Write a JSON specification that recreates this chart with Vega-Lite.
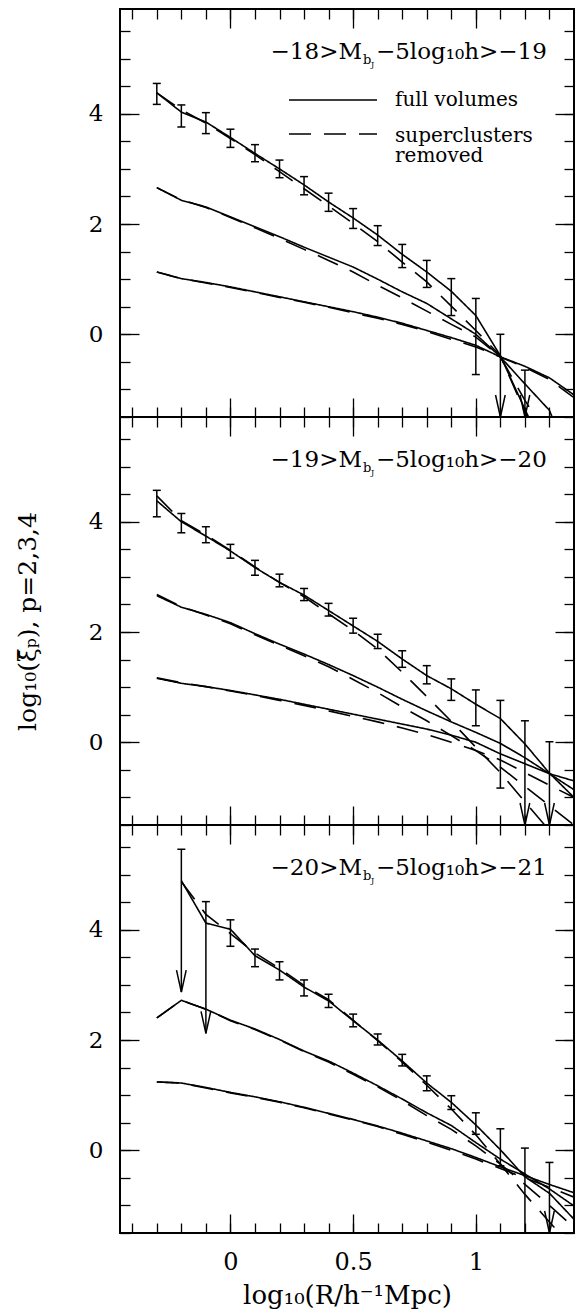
{
"$schema": "https://vega.github.io/schema/vega-lite/v6.json",
"padding": {"left": 14, "top": 7, "right": 0, "bottom": 0},
"spacing": 0,
"bounds": "flush",
"datasets": {
"curves": [
{"panel":1,"p":2,"x":-0.3,"full":4.38,"removed":4.38},
{"panel":1,"p":2,"x":-0.2,"full":4.03,"removed":4.07},
{"panel":1,"p":2,"x":-0.1,"full":3.85,"removed":3.83},
{"panel":1,"p":2,"x":0.0,"full":3.57,"removed":3.55},
{"panel":1,"p":2,"x":0.1,"full":3.28,"removed":3.26},
{"panel":1,"p":2,"x":0.2,"full":3.00,"removed":2.95},
{"panel":1,"p":2,"x":0.3,"full":2.71,"removed":2.64},
{"panel":1,"p":2,"x":0.4,"full":2.40,"removed":2.33},
{"panel":1,"p":2,"x":0.5,"full":2.11,"removed":2.01},
{"panel":1,"p":2,"x":0.6,"full":1.80,"removed":1.68},
{"panel":1,"p":2,"x":0.7,"full":1.45,"removed":1.31},
{"panel":1,"p":2,"x":0.8,"full":1.13,"removed":0.95},
{"panel":1,"p":2,"x":0.9,"full":0.78,"removed":0.51},
{"panel":1,"p":2,"x":1.0,"full":0.34,"removed":0.07},
{"panel":1,"p":2,"x":1.1,"full":-0.39,"removed":-0.39},
{"panel":1,"p":2,"x":1.2,"full":-1.36,"removed":-1.41},
{"panel":1,"p":2,"x":1.3,"full":-2.3,"removed":-2.4},
{"panel":1,"p":3,"x":-0.3,"full":2.66,"removed":2.66},
{"panel":1,"p":3,"x":-0.2,"full":2.43,"removed":2.44},
{"panel":1,"p":3,"x":-0.1,"full":2.31,"removed":2.30},
{"panel":1,"p":3,"x":0.0,"full":2.13,"removed":2.12},
{"panel":1,"p":3,"x":0.1,"full":1.95,"removed":1.93},
{"panel":1,"p":3,"x":0.2,"full":1.77,"removed":1.74},
{"panel":1,"p":3,"x":0.3,"full":1.58,"removed":1.54},
{"panel":1,"p":3,"x":0.4,"full":1.40,"removed":1.34},
{"panel":1,"p":3,"x":0.5,"full":1.22,"removed":1.13},
{"panel":1,"p":3,"x":0.6,"full":1.00,"removed":0.89},
{"panel":1,"p":3,"x":0.7,"full":0.77,"removed":0.66},
{"panel":1,"p":3,"x":0.8,"full":0.56,"removed":0.42},
{"panel":1,"p":3,"x":0.9,"full":0.28,"removed":0.18},
{"panel":1,"p":3,"x":1.0,"full":0.0,"removed":-0.05},
{"panel":1,"p":3,"x":1.1,"full":-0.41,"removed":-0.41},
{"panel":1,"p":3,"x":1.2,"full":-0.90,"removed":-1.2},
{"panel":1,"p":3,"x":1.3,"full":-1.38,"removed":-1.9},
{"panel":1,"p":3,"x":1.4,"full":-2.5,"removed":null},
{"panel":1,"p":4,"x":-0.3,"full":1.13,"removed":1.13},
{"panel":1,"p":4,"x":-0.2,"full":1.01,"removed":1.01},
{"panel":1,"p":4,"x":-0.1,"full":0.94,"removed":0.93},
{"panel":1,"p":4,"x":0.0,"full":0.86,"removed":0.85},
{"panel":1,"p":4,"x":0.1,"full":0.77,"removed":0.76},
{"panel":1,"p":4,"x":0.2,"full":0.68,"removed":0.67},
{"panel":1,"p":4,"x":0.3,"full":0.59,"removed":0.58},
{"panel":1,"p":4,"x":0.4,"full":0.50,"removed":0.49},
{"panel":1,"p":4,"x":0.5,"full":0.41,"removed":0.39},
{"panel":1,"p":4,"x":0.6,"full":0.31,"removed":0.29},
{"panel":1,"p":4,"x":0.7,"full":0.20,"removed":0.18},
{"panel":1,"p":4,"x":0.8,"full":0.07,"removed":0.05},
{"panel":1,"p":4,"x":0.9,"full":-0.06,"removed":-0.09},
{"panel":1,"p":4,"x":1.0,"full":-0.20,"removed":-0.23},
{"panel":1,"p":4,"x":1.1,"full":-0.41,"removed":-0.41},
{"panel":1,"p":4,"x":1.2,"full":-0.58,"removed":-0.60},
{"panel":1,"p":4,"x":1.3,"full":-0.79,"removed":-0.82},
{"panel":1,"p":4,"x":1.4,"full":-1.1,"removed":-1.15},
{"panel":2,"p":2,"x":-0.3,"full":4.38,"removed":4.47},
{"panel":2,"p":2,"x":-0.2,"full":4.00,"removed":4.02},
{"panel":2,"p":2,"x":-0.1,"full":3.74,"removed":3.76},
{"panel":2,"p":2,"x":0.0,"full":3.47,"removed":3.48},
{"panel":2,"p":2,"x":0.1,"full":3.17,"removed":3.18},
{"panel":2,"p":2,"x":0.2,"full":2.90,"removed":2.90},
{"panel":2,"p":2,"x":0.3,"full":2.67,"removed":2.64},
{"panel":2,"p":2,"x":0.4,"full":2.39,"removed":2.33},
{"panel":2,"p":2,"x":0.5,"full":2.11,"removed":2.03},
{"panel":2,"p":2,"x":0.6,"full":1.83,"removed":1.69},
{"panel":2,"p":2,"x":0.7,"full":1.51,"removed":1.27},
{"panel":2,"p":2,"x":0.8,"full":1.21,"removed":0.83},
{"panel":2,"p":2,"x":0.9,"full":0.97,"removed":0.38},
{"panel":2,"p":2,"x":1.0,"full":0.69,"removed":-0.09},
{"panel":2,"p":2,"x":1.1,"full":0.43,"removed":-0.55},
{"panel":2,"p":2,"x":1.2,"full":-0.03,"removed":-1.08},
{"panel":2,"p":2,"x":1.3,"full":-0.56,"removed":-1.6},
{"panel":2,"p":2,"x":1.4,"full":-1.0,"removed":null},
{"panel":2,"p":3,"x":-0.3,"full":2.66,"removed":2.68},
{"panel":2,"p":3,"x":-0.2,"full":2.45,"removed":2.46},
{"panel":2,"p":3,"x":-0.1,"full":2.32,"removed":2.31},
{"panel":2,"p":3,"x":0.0,"full":2.17,"removed":2.15},
{"panel":2,"p":3,"x":0.1,"full":1.97,"removed":1.95},
{"panel":2,"p":3,"x":0.2,"full":1.78,"removed":1.76},
{"panel":2,"p":3,"x":0.3,"full":1.60,"removed":1.57},
{"panel":2,"p":3,"x":0.4,"full":1.41,"removed":1.37},
{"panel":2,"p":3,"x":0.5,"full":1.21,"removed":1.14},
{"panel":2,"p":3,"x":0.6,"full":1.00,"removed":0.90},
{"panel":2,"p":3,"x":0.7,"full":0.78,"removed":0.64},
{"panel":2,"p":3,"x":0.8,"full":0.57,"removed":0.39},
{"panel":2,"p":3,"x":0.9,"full":0.37,"removed":0.12},
{"panel":2,"p":3,"x":1.0,"full":0.18,"removed":-0.15},
{"panel":2,"p":3,"x":1.1,"full":-0.02,"removed":-0.45},
{"panel":2,"p":3,"x":1.2,"full":-0.28,"removed":-0.80},
{"panel":2,"p":3,"x":1.3,"full":-0.57,"removed":-1.15},
{"panel":2,"p":3,"x":1.4,"full":-0.86,"removed":-1.5},
{"panel":2,"p":4,"x":-0.3,"full":1.16,"removed":1.17},
{"panel":2,"p":4,"x":-0.2,"full":1.07,"removed":1.08},
{"panel":2,"p":4,"x":-0.1,"full":1.01,"removed":1.01},
{"panel":2,"p":4,"x":0.0,"full":0.94,"removed":0.93},
{"panel":2,"p":4,"x":0.1,"full":0.86,"removed":0.85},
{"panel":2,"p":4,"x":0.2,"full":0.78,"removed":0.76},
{"panel":2,"p":4,"x":0.3,"full":0.69,"removed":0.67},
{"panel":2,"p":4,"x":0.4,"full":0.60,"removed":0.57},
{"panel":2,"p":4,"x":0.5,"full":0.51,"removed":0.47},
{"panel":2,"p":4,"x":0.6,"full":0.42,"removed":0.37},
{"panel":2,"p":4,"x":0.7,"full":0.33,"removed":0.26},
{"panel":2,"p":4,"x":0.8,"full":0.24,"removed":0.14},
{"panel":2,"p":4,"x":0.9,"full":0.13,"removed":0.0},
{"panel":2,"p":4,"x":1.0,"full":0.0,"removed":-0.15},
{"panel":2,"p":4,"x":1.1,"full":-0.21,"removed":-0.32},
{"panel":2,"p":4,"x":1.2,"full":-0.39,"removed":-0.55},
{"panel":2,"p":4,"x":1.3,"full":-0.57,"removed":-0.78},
{"panel":2,"p":4,"x":1.4,"full":-0.70,"removed":-1.0},
{"panel":3,"p":2,"x":-0.2,"full":4.89,"removed":4.87},
{"panel":3,"p":2,"x":-0.1,"full":4.12,"removed":4.28},
{"panel":3,"p":2,"x":0.0,"full":4.01,"removed":3.93},
{"panel":3,"p":2,"x":0.1,"full":3.53,"removed":3.58},
{"panel":3,"p":2,"x":0.2,"full":3.27,"removed":3.30},
{"panel":3,"p":2,"x":0.3,"full":2.96,"removed":2.99},
{"panel":3,"p":2,"x":0.4,"full":2.71,"removed":2.73},
{"panel":3,"p":2,"x":0.5,"full":2.35,"removed":2.36},
{"panel":3,"p":2,"x":0.6,"full":2.00,"removed":1.99},
{"panel":3,"p":2,"x":0.7,"full":1.62,"removed":1.60},
{"panel":3,"p":2,"x":0.8,"full":1.22,"removed":1.18},
{"panel":3,"p":2,"x":0.9,"full":0.87,"removed":0.75},
{"panel":3,"p":2,"x":1.0,"full":0.46,"removed":0.28},
{"panel":3,"p":2,"x":1.1,"full":0.01,"removed":-0.25},
{"panel":3,"p":2,"x":1.2,"full":-0.48,"removed":-0.80},
{"panel":3,"p":2,"x":1.3,"full":-0.78,"removed":-1.3},
{"panel":3,"p":2,"x":1.4,"full":-1.25,"removed":-1.8},
{"panel":3,"p":3,"x":-0.3,"full":2.40,"removed":2.40},
{"panel":3,"p":3,"x":-0.2,"full":2.72,"removed":2.72},
{"panel":3,"p":3,"x":-0.1,"full":2.56,"removed":2.56},
{"panel":3,"p":3,"x":0.0,"full":2.36,"removed":2.35},
{"panel":3,"p":3,"x":0.1,"full":2.20,"removed":2.19},
{"panel":3,"p":3,"x":0.2,"full":2.01,"removed":2.00},
{"panel":3,"p":3,"x":0.3,"full":1.80,"removed":1.79},
{"panel":3,"p":3,"x":0.4,"full":1.62,"removed":1.60},
{"panel":3,"p":3,"x":0.5,"full":1.40,"removed":1.38},
{"panel":3,"p":3,"x":0.6,"full":1.17,"removed":1.15},
{"panel":3,"p":3,"x":0.7,"full":0.93,"removed":0.90},
{"panel":3,"p":3,"x":0.8,"full":0.68,"removed":0.63},
{"panel":3,"p":3,"x":0.9,"full":0.45,"removed":0.38},
{"panel":3,"p":3,"x":1.0,"full":0.14,"removed":0.08},
{"panel":3,"p":3,"x":1.1,"full":-0.16,"removed":-0.25},
{"panel":3,"p":3,"x":1.2,"full":-0.43,"removed":-0.62},
{"panel":3,"p":3,"x":1.3,"full":-0.70,"removed":-1.0},
{"panel":3,"p":3,"x":1.4,"full":-1.01,"removed":-1.4},
{"panel":3,"p":4,"x":-0.3,"full":1.24,"removed":1.24},
{"panel":3,"p":4,"x":-0.2,"full":1.22,"removed":1.22},
{"panel":3,"p":4,"x":-0.1,"full":1.14,"removed":1.13},
{"panel":3,"p":4,"x":0.0,"full":1.05,"removed":1.04},
{"panel":3,"p":4,"x":0.1,"full":0.97,"removed":0.96},
{"panel":3,"p":4,"x":0.2,"full":0.88,"removed":0.87},
{"panel":3,"p":4,"x":0.3,"full":0.78,"removed":0.77},
{"panel":3,"p":4,"x":0.4,"full":0.67,"removed":0.66},
{"panel":3,"p":4,"x":0.5,"full":0.56,"removed":0.55},
{"panel":3,"p":4,"x":0.6,"full":0.44,"removed":0.43},
{"panel":3,"p":4,"x":0.7,"full":0.31,"removed":0.29},
{"panel":3,"p":4,"x":0.8,"full":0.17,"removed":0.15},
{"panel":3,"p":4,"x":0.9,"full":0.03,"removed":0.0},
{"panel":3,"p":4,"x":1.0,"full":-0.13,"removed":-0.16},
{"panel":3,"p":4,"x":1.1,"full":-0.30,"removed":-0.33},
{"panel":3,"p":4,"x":1.2,"full":-0.46,"removed":-0.50},
{"panel":3,"p":4,"x":1.3,"full":-0.62,"removed":-0.67},
{"panel":3,"p":4,"x":1.4,"full":-0.77,"removed":-0.85}
],
"bars": [
{"panel":1,"x":-0.3,"lo":4.17,"hi":4.55,"lim":false},
{"panel":1,"x":-0.2,"lo":3.76,"hi":4.16,"lim":false},
{"panel":1,"x":-0.1,"lo":3.64,"hi":4.02,"lim":false},
{"panel":1,"x":0.0,"lo":3.39,"hi":3.72,"lim":false},
{"panel":1,"x":0.1,"lo":3.13,"hi":3.44,"lim":false},
{"panel":1,"x":0.2,"lo":2.84,"hi":3.16,"lim":false},
{"panel":1,"x":0.3,"lo":2.53,"hi":2.86,"lim":false},
{"panel":1,"x":0.4,"lo":2.23,"hi":2.56,"lim":false},
{"panel":1,"x":0.5,"lo":1.92,"hi":2.28,"lim":false},
{"panel":1,"x":0.6,"lo":1.61,"hi":1.97,"lim":false},
{"panel":1,"x":0.7,"lo":1.21,"hi":1.63,"lim":false},
{"panel":1,"x":0.8,"lo":0.85,"hi":1.34,"lim":false},
{"panel":1,"x":0.9,"lo":0.34,"hi":1.01,"lim":false},
{"panel":1,"x":1.0,"lo":-0.73,"hi":0.65,"lim":false},
{"panel":1,"x":1.1,"lo":-1.5,"hi":0.0,"lim":true},
{"panel":1,"x":1.2,"lo":-1.5,"hi":-0.65,"lim":true},
{"panel":2,"x":-0.3,"lo":4.09,"hi":4.57,"lim":false},
{"panel":2,"x":-0.2,"lo":3.80,"hi":4.15,"lim":false},
{"panel":2,"x":-0.1,"lo":3.62,"hi":3.91,"lim":false},
{"panel":2,"x":0.0,"lo":3.34,"hi":3.59,"lim":false},
{"panel":2,"x":0.1,"lo":3.03,"hi":3.30,"lim":false},
{"panel":2,"x":0.2,"lo":2.82,"hi":3.05,"lim":false},
{"panel":2,"x":0.3,"lo":2.57,"hi":2.79,"lim":false},
{"panel":2,"x":0.4,"lo":2.29,"hi":2.52,"lim":false},
{"panel":2,"x":0.5,"lo":1.98,"hi":2.25,"lim":false},
{"panel":2,"x":0.6,"lo":1.70,"hi":1.96,"lim":false},
{"panel":2,"x":0.7,"lo":1.36,"hi":1.66,"lim":false},
{"panel":2,"x":0.8,"lo":1.06,"hi":1.39,"lim":false},
{"panel":2,"x":0.9,"lo":0.76,"hi":1.15,"lim":false},
{"panel":2,"x":1.0,"lo":0.30,"hi":0.95,"lim":false},
{"panel":2,"x":1.1,"lo":-0.83,"hi":0.76,"lim":false},
{"panel":2,"x":1.2,"lo":-1.5,"hi":0.39,"lim":true},
{"panel":2,"x":1.3,"lo":-1.5,"hi":0.01,"lim":true},
{"panel":3,"x":-0.2,"lo":2.87,"hi":5.46,"lim":true},
{"panel":3,"x":-0.1,"lo":2.12,"hi":4.51,"lim":true},
{"panel":3,"x":0.0,"lo":3.70,"hi":4.18,"lim":false},
{"panel":3,"x":0.1,"lo":3.33,"hi":3.65,"lim":false},
{"panel":3,"x":0.2,"lo":3.09,"hi":3.42,"lim":false},
{"panel":3,"x":0.3,"lo":2.80,"hi":3.09,"lim":false},
{"panel":3,"x":0.4,"lo":2.59,"hi":2.83,"lim":false},
{"panel":3,"x":0.5,"lo":2.24,"hi":2.47,"lim":false},
{"panel":3,"x":0.6,"lo":1.91,"hi":2.11,"lim":false},
{"panel":3,"x":0.7,"lo":1.53,"hi":1.74,"lim":false},
{"panel":3,"x":0.8,"lo":1.08,"hi":1.35,"lim":false},
{"panel":3,"x":0.9,"lo":0.74,"hi":0.99,"lim":false},
{"panel":3,"x":1.0,"lo":0.29,"hi":0.68,"lim":false},
{"panel":3,"x":1.1,"lo":-0.28,"hi":0.39,"lim":false},
{"panel":3,"x":1.2,"lo":-1.5,"hi":0.04,"lim":false},
{"panel":3,"x":1.3,"lo":-1.5,"hi":-0.22,"lim":true}
],
"labels": [
{"panel":1,"lead":"−18>M","sub":"b","subsub":"J","tail":"−5log₁₀h>−19"},
{"panel":2,"lead":"−19>M","sub":"b","subsub":"J","tail":"−5log₁₀h>−20"},
{"panel":3,"lead":"−20>M","sub":"b","subsub":"J","tail":"−5log₁₀h>−21"}
]
},
"vconcat": [
{
"width": 454, "height": 408,
"layer": [
{"data": {"name": "curves"},
 "transform": [{"filter": "datum.panel == 1"}, {"fold": ["full", "removed"], "as": ["set", "y"]}],
 "mark": {"type": "line", "clip": true, "color": "black", "strokeWidth": 1.6},
 "encoding": {
  "x": {"field": "x", "type": "quantitative", "scale": {"domain": [-0.45, 1.4], "nice": false, "zero": false}, "axis": {"orient": "bottom", "values": [0, 0.5, 1], "tickSize": -19, "labels": false, "title": null}},
  "y": {"field": "y", "type": "quantitative", "scale": {"domain": [-1.5, 5.9], "nice": false, "zero": false}, "axis": {"orient": "left", "values": [0, 2, 4], "tickSize": -19, "labelPadding": 36, "format": "~g", "title": null}},
  "strokeDash": {"field": "set", "type": "nominal", "scale": {"domain": ["full", "removed"], "range": [[1, 0], [22, 13]]},
   "legend": {"orient": "none", "legendX": 168, "legendY": 74, "title": null, "symbolType": "stroke", "symbolSize": 7744, "symbolStrokeWidth": 1.6, "symbolStrokeColor": "black", "clipHeight": 34, "rowPadding": 0, "padding": 0, "labelOffset": 17, "labelFont": "DejaVu Serif", "labelFontSize": 20, "labelColor": "black", "labelLimit": 300, "labelExpr": "datum.label == 'full' ? 'full volumes' : ['superclusters', 'removed']", "encode": {"labels": {"update": {"lineHeight": {"value": 20}, "dy": {"signal": "datum.value == 'removed' ? 2 : 0"}}}}}},
  "detail": {"field": "p", "type": "nominal"}
 }},
{"data": {"name": "bars"},
 "transform": [{"filter": "datum.panel == 1"}],
 "mark": {"type": "rule", "clip": true, "color": "black", "strokeWidth": 1.5},
 "encoding": {
  "x": {"field": "x", "type": "quantitative", "scale": {"domain": [-0.45, 1.4], "nice": false, "zero": false}, "axis": {"orient": "bottom", "values": [-0.4,-0.3,-0.2,-0.1,0,0.1,0.2,0.3,0.4,0.5,0.6,0.7,0.8,0.9,1,1.1,1.2,1.3], "tickSize": -10, "labels": false, "title": null}},
  "y": {"field": "lo", "type": "quantitative", "scale": {"domain": [-1.5, 5.9], "nice": false, "zero": false}, "axis": {"orient": "left", "values": [-1.5,-1,-0.5,0,0.5,1,1.5,2,2.5,3,3.5,4,4.5,5,5.5], "tickSize": -10, "labels": false, "title": null}},
  "y2": {"field": "hi"}
 }},
{"data": {"name": "bars"},
 "transform": [{"filter": "datum.panel == 1"}],
 "mark": {"type": "point", "shape": "M-1,0L1,0", "size": 64, "filled": false, "color": "black", "strokeWidth": 1.5, "opacity": 1},
 "encoding": {
  "x": {"field": "x", "type": "quantitative", "scale": {"domain": [-0.45, 1.4], "nice": false, "zero": false}, "axis": {"orient": "top", "values": [0, 0.5, 1], "tickSize": -19, "labels": false, "title": null}},
  "y": {"field": "hi", "type": "quantitative", "scale": {"domain": [-1.5, 5.9], "nice": false, "zero": false}, "axis": {"orient": "right", "values": [0, 2, 4], "tickSize": -19, "labels": false, "title": null}}
 }},
{"data": {"name": "bars"},
 "transform": [{"filter": "datum.panel == 1 && !datum.lim"}],
 "mark": {"type": "point", "shape": "M-1,0L1,0", "size": 64, "filled": false, "color": "black", "strokeWidth": 1.5, "opacity": 1},
 "encoding": {
  "x": {"field": "x", "type": "quantitative", "scale": {"domain": [-0.45, 1.4], "nice": false, "zero": false}, "axis": {"orient": "top", "values": [-0.4,-0.3,-0.2,-0.1,0,0.1,0.2,0.3,0.4,0.5,0.6,0.7,0.8,0.9,1,1.1,1.2,1.3], "tickSize": -10, "labels": false, "title": null}},
  "y": {"field": "lo", "type": "quantitative", "scale": {"domain": [-1.5, 5.9], "nice": false, "zero": false}, "axis": {"orient": "right", "values": [-1.5,-1,-0.5,0,0.5,1,1.5,2,2.5,3,3.5,4,4.5,5,5.5], "tickSize": -10, "labels": false, "title": null}}
 }},
{"data": {"name": "bars"},
 "transform": [{"filter": "datum.panel == 1 && datum.lim"}],
 "mark": {"type": "point", "shape": "M-0.22,-1L0,0L0.22,-1", "size": 1936, "filled": false, "color": "black", "strokeWidth": 1.5, "opacity": 1},
 "encoding": {
  "x": {"field": "x", "type": "quantitative", "axis": null},
  "y": {"field": "lo", "type": "quantitative", "axis": null}
 }},
{"data": {"name": "labels"},
 "transform": [{"filter": "datum.panel == 1"}],
 "mark": {"type": "text", "align": "right", "baseline": "alphabetic", "font": "DejaVu Serif", "fontSize": 23, "color": "black"},
 "encoding": {"x": {"datum": 0.536, "type": "quantitative", "axis": null}, "y": {"datum": 5.0, "type": "quantitative", "axis": null}, "text": {"field": "lead"}}},
{"data": {"name": "labels"},
 "transform": [{"filter": "datum.panel == 1"}],
 "mark": {"type": "text", "align": "left", "baseline": "alphabetic", "font": "DejaVu Serif", "fontSize": 13, "color": "black", "dx": 1, "dy": 5},
 "encoding": {"x": {"datum": 0.536, "type": "quantitative", "axis": null}, "y": {"datum": 5.0, "type": "quantitative", "axis": null}, "text": {"field": "sub"}}},
{"data": {"name": "labels"},
 "transform": [{"filter": "datum.panel == 1"}],
 "mark": {"type": "text", "align": "left", "baseline": "alphabetic", "font": "DejaVu Serif", "fontSize": 8, "color": "black", "dx": 9, "dy": 8},
 "encoding": {"x": {"datum": 0.536, "type": "quantitative", "axis": null}, "y": {"datum": 5.0, "type": "quantitative", "axis": null}, "text": {"field": "subsub"}}},
{"data": {"name": "labels"},
 "transform": [{"filter": "datum.panel == 1"}],
 "mark": {"type": "text", "align": "left", "baseline": "alphabetic", "font": "DejaVu Serif", "fontSize": 23, "color": "black", "dx": 14},
 "encoding": {"x": {"datum": 0.536, "type": "quantitative", "axis": null}, "y": {"datum": 5.0, "type": "quantitative", "axis": null}, "text": {"field": "tail"}}}
],
"resolve": {"axis": {"x": "independent", "y": "independent"}}
},
{
"width": 454, "height": 408,
"layer": [
{"data": {"name": "curves"},
 "transform": [{"filter": "datum.panel == 2"}, {"fold": ["full", "removed"], "as": ["set", "y"]}],
 "mark": {"type": "line", "clip": true, "color": "black", "strokeWidth": 1.6},
 "encoding": {
  "x": {"field": "x", "type": "quantitative", "scale": {"domain": [-0.45, 1.4], "nice": false, "zero": false}, "axis": {"orient": "bottom", "values": [0, 0.5, 1], "tickSize": -19, "labels": false, "title": null}},
  "y": {"field": "y", "type": "quantitative", "scale": {"domain": [-1.5, 5.9], "nice": false, "zero": false}, "axis": {"orient": "left", "values": [0, 2, 4], "tickSize": -19, "labelPadding": 36, "format": "~g", "title": "log₁₀(ξ̄ₚ),  p=2,3,4", "titleFontSize": 25, "titlePadding": 48}},
  "strokeDash": {"field": "set", "type": "nominal", "scale": {"domain": ["full", "removed"], "range": [[1, 0], [22, 13]]}, "legend": null},
  "detail": {"field": "p", "type": "nominal"}
 }},
{"data": {"name": "bars"},
 "transform": [{"filter": "datum.panel == 2"}],
 "mark": {"type": "rule", "clip": true, "color": "black", "strokeWidth": 1.5},
 "encoding": {
  "x": {"field": "x", "type": "quantitative", "scale": {"domain": [-0.45, 1.4], "nice": false, "zero": false}, "axis": {"orient": "bottom", "values": [-0.4,-0.3,-0.2,-0.1,0,0.1,0.2,0.3,0.4,0.5,0.6,0.7,0.8,0.9,1,1.1,1.2,1.3], "tickSize": -10, "labels": false, "title": null}},
  "y": {"field": "lo", "type": "quantitative", "scale": {"domain": [-1.5, 5.9], "nice": false, "zero": false}, "axis": {"orient": "left", "values": [-1.5,-1,-0.5,0,0.5,1,1.5,2,2.5,3,3.5,4,4.5,5,5.5], "tickSize": -10, "labels": false, "title": null}},
  "y2": {"field": "hi"}
 }},
{"data": {"name": "bars"},
 "transform": [{"filter": "datum.panel == 2"}],
 "mark": {"type": "point", "shape": "M-1,0L1,0", "size": 64, "filled": false, "color": "black", "strokeWidth": 1.5, "opacity": 1},
 "encoding": {
  "x": {"field": "x", "type": "quantitative", "scale": {"domain": [-0.45, 1.4], "nice": false, "zero": false}, "axis": {"orient": "top", "values": [0, 0.5, 1], "tickSize": -19, "labels": false, "title": null}},
  "y": {"field": "hi", "type": "quantitative", "scale": {"domain": [-1.5, 5.9], "nice": false, "zero": false}, "axis": {"orient": "right", "values": [0, 2, 4], "tickSize": -19, "labels": false, "title": null}}
 }},
{"data": {"name": "bars"},
 "transform": [{"filter": "datum.panel == 2 && !datum.lim"}],
 "mark": {"type": "point", "shape": "M-1,0L1,0", "size": 64, "filled": false, "color": "black", "strokeWidth": 1.5, "opacity": 1},
 "encoding": {
  "x": {"field": "x", "type": "quantitative", "scale": {"domain": [-0.45, 1.4], "nice": false, "zero": false}, "axis": {"orient": "top", "values": [-0.4,-0.3,-0.2,-0.1,0,0.1,0.2,0.3,0.4,0.5,0.6,0.7,0.8,0.9,1,1.1,1.2,1.3], "tickSize": -10, "labels": false, "title": null}},
  "y": {"field": "lo", "type": "quantitative", "scale": {"domain": [-1.5, 5.9], "nice": false, "zero": false}, "axis": {"orient": "right", "values": [-1.5,-1,-0.5,0,0.5,1,1.5,2,2.5,3,3.5,4,4.5,5,5.5], "tickSize": -10, "labels": false, "title": null}}
 }},
{"data": {"name": "bars"},
 "transform": [{"filter": "datum.panel == 2 && datum.lim"}],
 "mark": {"type": "point", "shape": "M-0.22,-1L0,0L0.22,-1", "size": 1936, "filled": false, "color": "black", "strokeWidth": 1.5, "opacity": 1},
 "encoding": {
  "x": {"field": "x", "type": "quantitative", "axis": null},
  "y": {"field": "lo", "type": "quantitative", "axis": null}
 }},
{"data": {"name": "labels"},
 "transform": [{"filter": "datum.panel == 2"}],
 "mark": {"type": "text", "align": "right", "baseline": "alphabetic", "font": "DejaVu Serif", "fontSize": 23, "color": "black"},
 "encoding": {"x": {"datum": 0.536, "type": "quantitative", "axis": null}, "y": {"datum": 5.0, "type": "quantitative", "axis": null}, "text": {"field": "lead"}}},
{"data": {"name": "labels"},
 "transform": [{"filter": "datum.panel == 2"}],
 "mark": {"type": "text", "align": "left", "baseline": "alphabetic", "font": "DejaVu Serif", "fontSize": 13, "color": "black", "dx": 1, "dy": 5},
 "encoding": {"x": {"datum": 0.536, "type": "quantitative", "axis": null}, "y": {"datum": 5.0, "type": "quantitative", "axis": null}, "text": {"field": "sub"}}},
{"data": {"name": "labels"},
 "transform": [{"filter": "datum.panel == 2"}],
 "mark": {"type": "text", "align": "left", "baseline": "alphabetic", "font": "DejaVu Serif", "fontSize": 8, "color": "black", "dx": 9, "dy": 8},
 "encoding": {"x": {"datum": 0.536, "type": "quantitative", "axis": null}, "y": {"datum": 5.0, "type": "quantitative", "axis": null}, "text": {"field": "subsub"}}},
{"data": {"name": "labels"},
 "transform": [{"filter": "datum.panel == 2"}],
 "mark": {"type": "text", "align": "left", "baseline": "alphabetic", "font": "DejaVu Serif", "fontSize": 23, "color": "black", "dx": 14},
 "encoding": {"x": {"datum": 0.536, "type": "quantitative", "axis": null}, "y": {"datum": 5.0, "type": "quantitative", "axis": null}, "text": {"field": "tail"}}}
],
"resolve": {"axis": {"x": "independent", "y": "independent"}}
},
{
"width": 454, "height": 408,
"layer": [
{"data": {"name": "curves"},
 "transform": [{"filter": "datum.panel == 3"}, {"fold": ["full", "removed"], "as": ["set", "y"]}],
 "mark": {"type": "line", "clip": true, "color": "black", "strokeWidth": 1.6},
 "encoding": {
  "x": {"field": "x", "type": "quantitative", "scale": {"domain": [-0.45, 1.4], "nice": false, "zero": false}, "axis": {"orient": "bottom", "values": [0, 0.5, 1], "tickSize": -19, "labelPadding": 36, "labelFontSize": 24, "format": "~g", "title": "log₁₀(R/h⁻¹Mpc)", "titleFontSize": 26, "titlePadding": 8}},
  "y": {"field": "y", "type": "quantitative", "scale": {"domain": [-1.5, 5.9], "nice": false, "zero": false}, "axis": {"orient": "left", "values": [0, 2, 4], "tickSize": -19, "labelPadding": 36, "format": "~g", "title": null}},
  "strokeDash": {"field": "set", "type": "nominal", "scale": {"domain": ["full", "removed"], "range": [[1, 0], [22, 13]]}, "legend": null},
  "detail": {"field": "p", "type": "nominal"}
 }},
{"data": {"name": "bars"},
 "transform": [{"filter": "datum.panel == 3"}],
 "mark": {"type": "rule", "clip": true, "color": "black", "strokeWidth": 1.5},
 "encoding": {
  "x": {"field": "x", "type": "quantitative", "scale": {"domain": [-0.45, 1.4], "nice": false, "zero": false}, "axis": {"orient": "bottom", "values": [-0.4,-0.3,-0.2,-0.1,0,0.1,0.2,0.3,0.4,0.5,0.6,0.7,0.8,0.9,1,1.1,1.2,1.3], "tickSize": -10, "labels": false, "title": null}},
  "y": {"field": "lo", "type": "quantitative", "scale": {"domain": [-1.5, 5.9], "nice": false, "zero": false}, "axis": {"orient": "left", "values": [-1.5,-1,-0.5,0,0.5,1,1.5,2,2.5,3,3.5,4,4.5,5,5.5], "tickSize": -10, "labels": false, "title": null}},
  "y2": {"field": "hi"}
 }},
{"data": {"name": "bars"},
 "transform": [{"filter": "datum.panel == 3"}],
 "mark": {"type": "point", "shape": "M-1,0L1,0", "size": 64, "filled": false, "color": "black", "strokeWidth": 1.5, "opacity": 1},
 "encoding": {
  "x": {"field": "x", "type": "quantitative", "scale": {"domain": [-0.45, 1.4], "nice": false, "zero": false}, "axis": {"orient": "top", "values": [0, 0.5, 1], "tickSize": -19, "labels": false, "title": null}},
  "y": {"field": "hi", "type": "quantitative", "scale": {"domain": [-1.5, 5.9], "nice": false, "zero": false}, "axis": {"orient": "right", "values": [0, 2, 4], "tickSize": -19, "labels": false, "title": null}}
 }},
{"data": {"name": "bars"},
 "transform": [{"filter": "datum.panel == 3 && !datum.lim"}],
 "mark": {"type": "point", "shape": "M-1,0L1,0", "size": 64, "filled": false, "color": "black", "strokeWidth": 1.5, "opacity": 1},
 "encoding": {
  "x": {"field": "x", "type": "quantitative", "scale": {"domain": [-0.45, 1.4], "nice": false, "zero": false}, "axis": {"orient": "top", "values": [-0.4,-0.3,-0.2,-0.1,0,0.1,0.2,0.3,0.4,0.5,0.6,0.7,0.8,0.9,1,1.1,1.2,1.3], "tickSize": -10, "labels": false, "title": null}},
  "y": {"field": "lo", "type": "quantitative", "scale": {"domain": [-1.5, 5.9], "nice": false, "zero": false}, "axis": {"orient": "right", "values": [-1.5,-1,-0.5,0,0.5,1,1.5,2,2.5,3,3.5,4,4.5,5,5.5], "tickSize": -10, "labels": false, "title": null}}
 }},
{"data": {"name": "bars"},
 "transform": [{"filter": "datum.panel == 3 && datum.lim"}],
 "mark": {"type": "point", "shape": "M-0.22,-1L0,0L0.22,-1", "size": 1936, "filled": false, "color": "black", "strokeWidth": 1.5, "opacity": 1},
 "encoding": {
  "x": {"field": "x", "type": "quantitative", "axis": null},
  "y": {"field": "lo", "type": "quantitative", "axis": null}
 }},
{"data": {"name": "labels"},
 "transform": [{"filter": "datum.panel == 3"}],
 "mark": {"type": "text", "align": "right", "baseline": "alphabetic", "font": "DejaVu Serif", "fontSize": 23, "color": "black"},
 "encoding": {"x": {"datum": 0.536, "type": "quantitative", "axis": null}, "y": {"datum": 5.0, "type": "quantitative", "axis": null}, "text": {"field": "lead"}}},
{"data": {"name": "labels"},
 "transform": [{"filter": "datum.panel == 3"}],
 "mark": {"type": "text", "align": "left", "baseline": "alphabetic", "font": "DejaVu Serif", "fontSize": 13, "color": "black", "dx": 1, "dy": 5},
 "encoding": {"x": {"datum": 0.536, "type": "quantitative", "axis": null}, "y": {"datum": 5.0, "type": "quantitative", "axis": null}, "text": {"field": "sub"}}},
{"data": {"name": "labels"},
 "transform": [{"filter": "datum.panel == 3"}],
 "mark": {"type": "text", "align": "left", "baseline": "alphabetic", "font": "DejaVu Serif", "fontSize": 8, "color": "black", "dx": 9, "dy": 8},
 "encoding": {"x": {"datum": 0.536, "type": "quantitative", "axis": null}, "y": {"datum": 5.0, "type": "quantitative", "axis": null}, "text": {"field": "subsub"}}},
{"data": {"name": "labels"},
 "transform": [{"filter": "datum.panel == 3"}],
 "mark": {"type": "text", "align": "left", "baseline": "alphabetic", "font": "DejaVu Serif", "fontSize": 23, "color": "black", "dx": 14},
 "encoding": {"x": {"datum": 0.536, "type": "quantitative", "axis": null}, "y": {"datum": 5.0, "type": "quantitative", "axis": null}, "text": {"field": "tail"}}}
],
"resolve": {"axis": {"x": "independent", "y": "independent"}}
}
],
"resolve": {"scale": {"strokeDash": "independent"}, "legend": {"strokeDash": "independent"}},
"config": {
 "view": {"stroke": "black", "strokeWidth": 2},
 "axis": {"domain": false, "grid": false, "tickColor": "black", "tickWidth": 1.3, "labelFont": "DejaVu Serif", "labelFontSize": 23, "labelColor": "black", "titleFont": "DejaVu Serif", "titleColor": "black", "titleFontWeight": "normal", "labelFlush": false, "labelOverlap": false},
 "text": {"font": "DejaVu Serif"}
}
}
